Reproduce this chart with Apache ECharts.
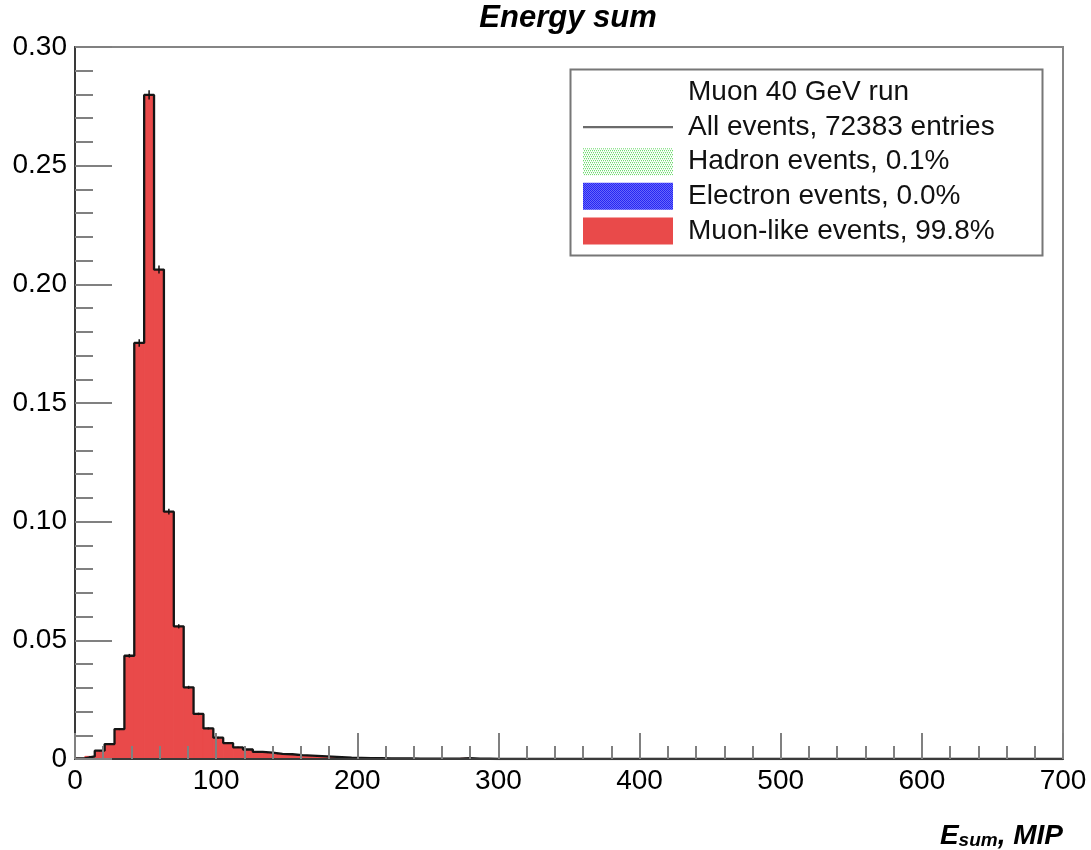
<!DOCTYPE html>
<html>
<head>
<meta charset="utf-8">
<script src="https://cdn.jsdelivr.net/npm/echarts/dist/echarts.min.js"></script>
<style>html,body{margin:0;padding:0;background:#fff}#c{width:1091px;height:850px}</style>
</head>
<body>
<div id="c"></div>
<script>
// ---- data ----
const binWidth = 7;          // MIP per bin
const xStart = 0;            // first bin edge
const totalEntries = 72383;
const allEvents = [
  0.0003, 0.0011, 0.0035, 0.0063, 0.0126, 0.0435, 0.1753, 0.2798, 0.2062, 0.1042,
  0.0559, 0.0302, 0.0190, 0.0129, 0.0090, 0.0067, 0.0049, 0.0040, 0.0030, 0.0027,
  0.0022, 0.0020, 0.0016, 0.0014, 0.0012, 0.0010, 0.0008, 0.0006, 0.0005, 0.0004,
  0.0004, 0.0003, 0.0003, 0.0003, 0.0002, 0.0002, 0.0001, 0.0001, 0.0001, 0.0004,
  0.0001, 0.0001, 0, 0, 0
];
const muonLike = [
  0.0003, 0.0011, 0.0035, 0.0063, 0.0126, 0.0435, 0.1753, 0.2797, 0.2061, 0.1041,
  0.0558, 0.0301, 0.0189, 0.0128, 0.0089, 0.0066, 0.0048, 0.0039, 0.0029, 0.0026,
  0.0021, 0.0019, 0.0015, 0.0013, 0.0011, 0.0009, 0.0007, 0.0005, 0.0004, 0.0003,
  0.0003, 0.0002, 0.0002, 0.0002, 0.0001, 0.0001, 0.0001, 0.0001, 0.0001, 0.0003,
  0.0001, 0, 0, 0, 0
];
const hadronEvents = [];
const electronEvents = [];
const seriesNames = ['Muon 40 GeV run', 'All events, 72383 entries', 'Hadron events, 0.1%', 'Electron events, 0.0%', 'Muon-like events, 99.8%'];
const xRange = [0, 700];
const yRange = [0, 0.30];

// ---- helpers ----
function makePattern(fg, bg, size, dots) {
  const c = document.createElement('canvas');
  c.width = c.height = size;
  const ctx = c.getContext('2d');
  ctx.fillStyle = bg; ctx.fillRect(0, 0, size, size);
  ctx.fillStyle = fg;
  dots.forEach(d => ctx.fillRect(d[0], d[1], 1, 1));
  return { image: c, repeat: 'repeat' };
}
const hadronPattern = makePattern('#3fcf3f', '#ffffff', 4, [[0,0],[2,0],[1,2],[3,2]]);
const electronPattern = makePattern('#1515f0', '#7a7aff', 2, [[0,0],[1,1]]);

const RED = '#e94a4a';
const FONT = '"Liberation Sans", Arial, Helvetica, sans-serif';
// thin horizontal band icon (bounding box 90x27) for the "All events" legend line
const LINE_ICON = 'path://M0,0 M0,12.3 L90,12.3 L90,14.7 L0,14.7 Z M90,27';

const barData = muonLike.map((v, i) => [xStart + i * binWidth, xStart + (i + 1) * binWidth, v]);
const stepData = allEvents.map((v, i) => [xStart + i * binWidth, v]);
stepData.push([xStart + allEvents.length * binWidth, 0]);
stepData.push([xRange[1], 0]);
const errData = allEvents.map((v, i) => [xStart + (i + 0.5) * binWidth, v, Math.sqrt(v / totalEntries)]).filter(d => d[1] > 0);

const chart = echarts.init(document.getElementById('c'), null, { renderer: 'canvas' });
chart.setOption({
  animation: false,
  backgroundColor: '#fff',
  title: {
    text: 'Energy sum',
    left: 568, top: 0, textAlign: 'center', padding: [3, 0, 0, 0],
    textStyle: { fontFamily: FONT, fontSize: 31, fontWeight: 'bold', fontStyle: 'italic', color: '#000' }
  },
  grid: { left: 75, right: 28, top: 47, bottom: 90, show: true, borderColor: '#858585', borderWidth: 2, backgroundColor: 'transparent' },
  xAxis: {
    type: 'value', min: xRange[0], max: xRange[1], interval: 100, z: 5,
    name: '{a|E}{b|sum}{a|, MIP}',
    nameLocation: 'end', nameGap: 0,
    nameTextStyle: {
      align: 'right', verticalAlign: 'top', padding: [61, 0, 0, 0],
      rich: {
        a: { fontFamily: FONT, fontSize: 28, fontWeight: 'bold', fontStyle: 'italic', color: '#000', verticalAlign: 'bottom', lineHeight: 30 },
        b: { fontFamily: FONT, fontSize: 19, fontWeight: 'bold', fontStyle: 'italic', color: '#000', verticalAlign: 'bottom', lineHeight: 19 }
      }
    },
    axisLine: { show: true, lineStyle: { color: '#3a3a3a', width: 2 } },
    axisTick: { show: true, inside: true, length: 26, lineStyle: { color: '#808080', width: 2 } },
    minorTick: { show: true, splitNumber: 5, length: 13, lineStyle: { color: '#808080', width: 2 } },
    splitLine: { show: false },
    axisLabel: { fontFamily: FONT, fontSize: 28, color: '#000', margin: 8 }
  },
  yAxis: {
    type: 'value', min: yRange[0], max: yRange[1], interval: 0.05, z: 5,
    axisLine: { show: true, lineStyle: { color: '#3a3a3a', width: 2 } },
    axisTick: { show: true, inside: true, length: 37, lineStyle: { color: '#808080', width: 2 } },
    minorTick: { show: true, splitNumber: 5, length: 18, lineStyle: { color: '#808080', width: 2 } },
    splitLine: { show: false },
    axisLabel: { fontFamily: FONT, fontSize: 28, color: '#000', margin: 8,
      formatter: v => (v === 0 ? '0' : v.toFixed(2)) }
  },
  legend: {
    orient: 'vertical', left: 583, top: 78.5, padding: 0,
    itemWidth: 90, itemHeight: 27, itemGap: 6.6,
    selectedMode: false,
    textStyle: { fontFamily: FONT, fontSize: 28, color: '#111', padding: [0, 0, 0, 10], lineHeight: 27 },
    data: [
      { name: seriesNames[0], icon: 'rect', itemStyle: { color: 'rgba(0,0,0,0)', borderWidth: 0 } },
      { name: seriesNames[1], icon: LINE_ICON, itemStyle: { color: '#6b6b6b', borderWidth: 0 } },
      { name: seriesNames[2], icon: 'rect', itemStyle: { color: hadronPattern, borderWidth: 0 } },
      { name: seriesNames[3], icon: 'rect', itemStyle: { color: electronPattern, borderWidth: 0 } },
      { name: seriesNames[4], icon: 'rect', itemStyle: { color: RED, borderWidth: 0 } }
    ]
  },
  graphic: [{
    type: 'rect', left: 568, top: 67, z: 100, silent: true,
    shape: { width: 472, height: 186 },
    style: { fill: 'none', stroke: '#777', lineWidth: 2 }
  }],
  series: [
    { name: seriesNames[0], type: 'custom', data: [], renderItem: () => null, itemStyle: { color: 'rgba(0,0,0,0)' } },
    {
      name: seriesNames[4], type: 'custom', z: 2, clip: true,
      encode: { x: [0, 1], y: 2 },
      itemStyle: { color: RED },
      data: barData,
      renderItem: function (params, api) {
        const p0 = api.coord([api.value(0), api.value(2)]);
        const p1 = api.coord([api.value(1), 0]);
        return { type: 'rect', shape: { x: p0[0], y: p0[1], width: p1[0] - p0[0], height: p1[1] - p0[1] },
          style: { fill: RED, stroke: RED, lineWidth: 1 } };
      }
    },
    { name: seriesNames[2], type: 'custom', data: hadronEvents, renderItem: () => null, itemStyle: { color: '#3fcf3f' } },
    { name: seriesNames[3], type: 'custom', data: electronEvents, renderItem: () => null, itemStyle: { color: '#1515f0' } },
    {
      name: seriesNames[1], type: 'line', z: 3, step: 'end', symbol: 'none', showSymbol: false,
      lineStyle: { color: '#151515', width: 2.3 }, itemStyle: { color: '#151515' },
      data: stepData
    },
    {
      name: 'errors', type: 'custom', z: 4,
      encode: { x: 0, y: 1 },
      data: errData,
      renderItem: function (params, api) {
        const x = api.value(0), v = api.value(1), e = api.value(2);
        const t = api.coord([x, v + e]), b = api.coord([x, v - e]);
        return { type: 'line', shape: { x1: t[0], y1: t[1], x2: b[0], y2: b[1] },
          style: { stroke: '#111', lineWidth: 1.5 } };
      }
    }
  ]
});
</script>
</body>
</html>
